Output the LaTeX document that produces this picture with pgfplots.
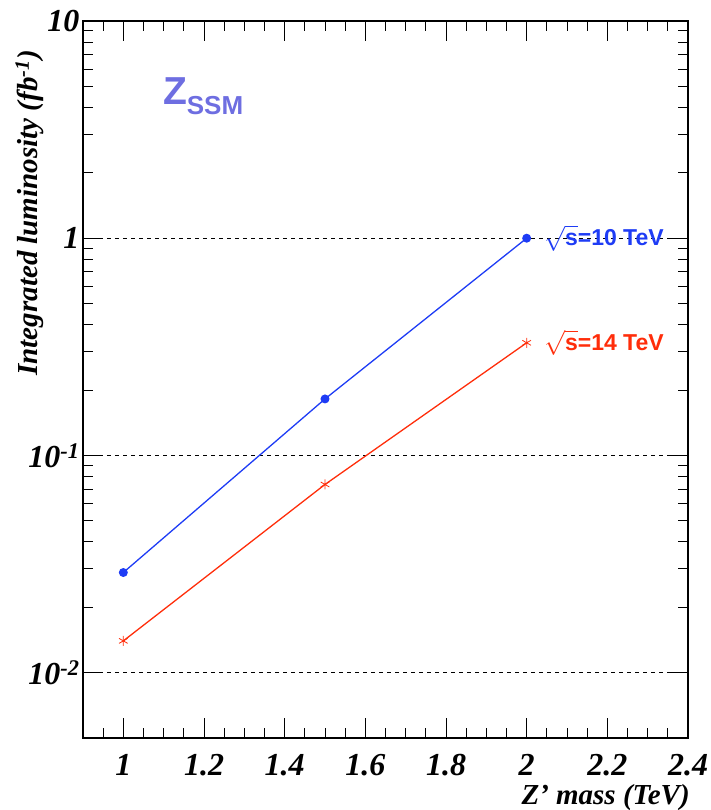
\documentclass[border=0pt]{standalone}
\usepackage{fontspec}
\setmainfont{Liberation Serif}
\setsansfont{Liberation Sans}
\usepackage{pgfplots}
\pgfplotsset{compat=1.18}
\definecolor{lblue}{RGB}{30,60,245}
\definecolor{lred}{RGB}{255,45,10}
\definecolor{zcol}{RGB}{110,110,225}
\newcommand{\tl}[1]{\textbf{\textit{#1}}}
\begin{document}
\begin{tikzpicture}
\begin{axis}[
  scale only axis, width=605pt, height=717pt,
  xmin=0.9, xmax=2.4, ymode=log, ymin=0.005, ymax=10,
  xtick={1,1.2,1.4,1.6,1.8,2,2.2,2.4},
  xticklabels={\tl{1},\tl{1.2},\tl{1.4},\tl{1.6},\tl{1.8},\tl{2},\tl{2.2},\tl{2.4}},
  minor xtick={0.95,1.05,1.1,1.15,1.25,1.3,1.35,1.45,1.5,1.55,1.65,1.7,1.75,1.85,1.9,1.95,2.05,2.1,2.15,2.25,2.3,2.35},
  ytick={0.01,0.1,1,10},
  yticklabels={\tl{10\textsuperscript{-2}},\tl{10\textsuperscript{-1}},\tl{1},\tl{10}},
  tick align=inside,
  major tick length=20pt, minor tick length=10pt,
  every tick/.style={black, line width=1pt},
  axis line style={line width=1.6pt, black},
  ymajorgrids,
  major grid style={black, line width=0.8pt, dash pattern=on 4pt off 4pt},
  ticklabel style={font=\fontsize{32}{34}\selectfont},
  xticklabel style={inner sep=0pt, text depth=0pt, anchor=north, yshift=-16pt},
  yticklabel style={xshift=0pt},
  xlabel={\tl{Z’ mass (TeV)}},
  ylabel={\tl{Integrated luminosity (fb\textsuperscript{-1})}},
  label style={font=\fontsize{29}{31}\selectfont},
  xlabel style={at={(axis description cs:1.003,-0.0925)}, anchor=base east, inner sep=0pt},
  ylabel style={at={(axis description cs:-0.088,0.964)}, anchor=east},
]
\addplot[lblue, line width=1.3pt, mark=*, mark size=3.8pt] coordinates {(1,0.0289) (1.5,0.182) (2,1.0)};
\addplot[lred, line width=1.3pt, mark=asterisk, mark size=5pt, mark options={line width=0.8pt}] coordinates {(1,0.0140) (1.5,0.0735) (2,0.330)};
\node[anchor=west, text=lblue, font=\sffamily\bfseries\fontsize{23}{23}\selectfont] at (axis cs:2.035,1.0) {$\sqrt{\mbox{s}}$=10 TeV};
\node[anchor=west, text=lred, font=\sffamily\bfseries\fontsize{23}{23}\selectfont] at (axis cs:2.035,0.33) {$\sqrt{\mbox{s}}$=14 TeV};
\node[anchor=base west, text=zcol, font=\sffamily\bfseries, inner sep=0pt] at (rel axis cs:0.132,0.883) {\fontsize{39}{39}\selectfont Z\fontsize{26}{26}\selectfont\raisebox{-10pt}{SSM}};
\end{axis}
\pgfresetboundingbox
\path ([shift={(-83pt,-72pt)}]current axis.south west) rectangle ([shift={(23pt,21pt)}]current axis.north east);
\end{tikzpicture}
\end{document}
